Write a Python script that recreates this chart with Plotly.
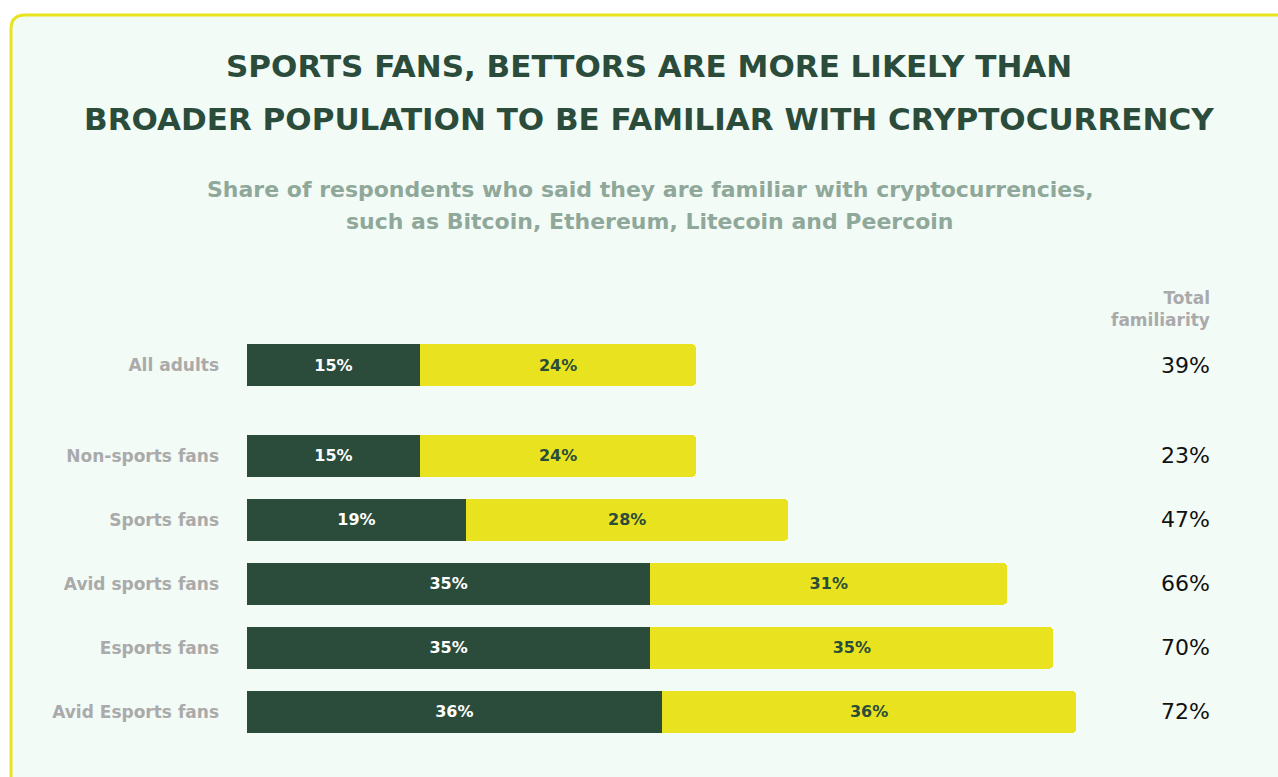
import plotly.graph_objects as go

# Survey groups and the two stacked familiarity segments (percent)
groups = ["All adults", "Non-sports fans", "Sports fans", "Avid sports fans",
          "Esports fans", "Avid Esports fans"]
very_familiar = [15, 15, 19, 35, 35, 36]
somewhat_familiar = [24, 24, 28, 31, 35, 36]
total_familiarity = [39, 23, 47, 66, 70, 72]

W, H = 1278, 777
ML, MR, MT, MB = 247, 69, 333, 33
PW, PH = W - ML - MR, H - MT - MB

DARK = "#2b4c3b"
YELLOW = "#e8e31e"
BG = "#f2fbf6"
GREY = "#aaaaaa"
FONT = "DejaVu Sans"


def px_x(x):
    return (x - ML) / PW


def px_y(y):
    return (H - MB - y) / PH


# Row positions: a wider gap separates the "All adults" baseline row
ypos = [0 if i == 0 else i + 0.42 for i in range(len(groups))]

fig = go.Figure()
fig.add_trace(go.Bar(
    y=ypos, x=very_familiar, orientation="h", width=0.656,
    marker=dict(color=DARK, line=dict(width=0)),
    text=[f"{v}%" for v in very_familiar], textposition="inside",
    insidetextanchor="middle",
    textfont=dict(family=FONT, size=16, color="white", weight="bold"),
    hoverinfo="skip",
))
fig.add_trace(go.Bar(
    y=ypos, x=somewhat_familiar, orientation="h", width=0.656,
    marker=dict(color=YELLOW, line=dict(width=0)),
    text=[f"{v}%" for v in somewhat_familiar], textposition="inside",
    insidetextanchor="middle",
    textfont=dict(family=FONT, size=16, color=DARK, weight="bold"),
    hoverinfo="skip",
))

# Total familiarity column on the right
for yp, t in zip(ypos, total_familiarity):
    fig.add_annotation(x=1, xref="paper", y=yp, yref="y", text=f"{t}%",
                       showarrow=False, xanchor="right", yanchor="middle",
                       xshift=3,
                       font=dict(family=FONT, size=22, color="#111111"))
fig.add_annotation(x=1, xref="paper", y=px_y(309), yref="paper",
                   text="Total<br>familiarity", showarrow=False,
                   xanchor="right", yanchor="middle", align="right",
                   xshift=3,
                   font=dict(family=FONT, size=17, color=GREY, weight="bold"))

# Title (two lines) and subtitle (two lines)
title_lines = [("SPORTS FANS, BETTORS ARE MORE LIKELY THAN", 66),
               ("BROADER POPULATION TO BE FAMILIAR WITH CRYPTOCURRENCY", 119)]
for txt, yy in title_lines:
    fig.add_annotation(x=px_x(649), xref="paper", y=px_y(yy), yref="paper",
                       text=txt, showarrow=False, xanchor="center",
                       yanchor="middle",
                       font=dict(family=FONT, size=31, color=DARK,
                                 weight="bold"))
sub_lines = [("Share of respondents who said they are familiar with cryptocurrencies,", 189),
             ("such as Bitcoin, Ethereum, Litecoin and Peercoin", 221)]
for txt, yy in sub_lines:
    fig.add_annotation(x=px_x(650), xref="paper", y=px_y(yy), yref="paper",
                       text=txt, showarrow=False, xanchor="center",
                       yanchor="middle",
                       font=dict(family=FONT, size=22, color="#8fa89a",
                                 weight="bold"))

# Card background with rounded top-left corner and yellow outline
x0, y0 = px_x(11), px_y(15)
x1, y1 = px_x(1300), px_y(800)
r = 14 / PW
ry = 14 / PH
fig.add_shape(type="path", xref="paper", yref="paper", layer="below",
              path=(f"M {x0},{y1} L {x0},{y0 - ry} Q {x0},{y0} {x0 + r},{y0} "
                    f"L {x1},{y0} L {x1},{y1} Z"),
              fillcolor=BG, line=dict(color=YELLOW, width=3))

fig.update_layout(
    width=W, height=H,
    margin=dict(l=ML, r=MR, t=MT, b=MB),
    barmode="stack", barcornerradius=5,
    paper_bgcolor="white", plot_bgcolor="rgba(0,0,0,0)",
    showlegend=False,
    font=dict(family=FONT),
    xaxis=dict(range=[0, PW / 11.52], visible=False, fixedrange=True),
    yaxis=dict(range=[5.92, -0.5], tickvals=ypos, ticktext=groups,
               showgrid=False, zeroline=False, showline=False, ticks="",
               ticklabelstandoff=27,
               tickfont=dict(family=FONT, size=17, color=GREY, weight="bold"),
               fixedrange=True),
)

fig.write_html("out.html")
